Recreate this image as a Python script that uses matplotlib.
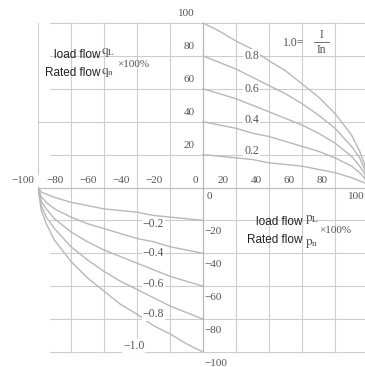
import matplotlib.pyplot as plt

plt.rcParams['mathtext.fontset'] = 'stix'

# load pressure (% of rated) and load flow (% of rated)
p_upper = [0, 10, 20, 30, 40, 50, 60, 70, 80, 90, 95, 98, 100]
q_upper = {
    '1.0': [100, 95, 89, 84, 77, 71, 63, 55, 45, 32, 22, 14, 0],
    '0.8': [80, 76, 72, 67, 62, 57, 51, 44, 36, 25, 18, 11, 0],
    '0.6': [60, 57, 54, 50, 46, 42, 38, 33, 27, 19, 13, 8.5, 0],
    '0.4': [40, 38, 36, 33, 31, 28, 25, 22, 18, 13, 9, 5.7, 0],
    '0.2': [20, 19, 18, 17, 15, 14, 13, 11, 9, 6, 4, 2.8, 0],
}
p_lower = [-100, -98, -95, -90, -80, -70, -60, -50, -40, -30, -20, -10, 0]
q_lower = {
    '-1.0': [0, -14, -22, -32, -45, -55, -63, -71, -77, -84, -89, -95, -100],
    '-0.8': [0, -11, -18, -25, -36, -44, -51, -57, -62, -67, -72, -76, -80],
    '-0.6': [0, -8.5, -13, -19, -27, -33, -38, -42, -46, -50, -54, -57, -60],
    '-0.4': [0, -5.7, -9, -13, -18, -22, -25, -28, -31, -33, -36, -38, -40],
    '-0.2': [0, -2.8, -4, -6, -9, -11, -13, -14, -15, -17, -18, -19, -20],
}
ticks_pos = [20, 40, 60, 80]
ticks_neg = [-100, -80, -60, -40, -20]
yticks_up = [100, 80, 60, 40, 20]
yticks_dn = [-20, -40, -60, -80, -100]

grid_c = '#cdcdcd'
curve_c = '#b8b8b8'
num_c = '#555555'


def lab(v):
    return str(v).replace('-', '\u2212')


fig = plt.figure(figsize=(3.65, 3.67), dpi=100)
ax = fig.add_axes([38 / 365, 15 / 367, 327 / 365, 329 / 367])
ax.set_xlim(-100, 98.2)
ax.set_ylim(-100, 100)
ax.axis('off')

# grid
for y in yticks_up + yticks_dn:
    x0 = -100 if y == 40 else -92.5
    ax.plot([x0, 100], [y, y], color=grid_c, lw=0.8, clip_on=False)
for x in ticks_neg[1:] + ticks_pos:
    ax.plot([x, x], [-100, 100], color=grid_c, lw=0.8, clip_on=False)
ax.plot([-100, -100], [8, 100], color=grid_c, lw=0.8)
ax.plot([-100, 100], [0, 0], color='#c0c0c0', lw=0.9, clip_on=False)
ax.plot([0, 0], [-100, 100], color='#b8b8b8', lw=0.9)

# curves
for k, q in q_upper.items():
    ax.plot(p_upper, q, color=curve_c, lw=1.0, clip_on=False)
for k, q in q_lower.items():
    ax.plot(p_lower, q, color=curve_c, lw=1.0)

serif = 'Liberation Serif'
box = dict(facecolor='white', edgecolor='none', pad=0.6)

# curve labels
for k, y in zip(['0.8', '0.6', '0.4', '0.2'], [80, 60, 41, 22]):
    ax.text(29.5, y, k, family=serif, fontsize=8.5, color=num_c,
            ha='center', va='center', bbox=box)
for k, y in zip(['-0.2', '-0.4', '-0.6', '-0.8'], [-22, -40, -58.5, -77]):
    ax.text(-30, y, lab(k), family=serif, fontsize=8.5, color=num_c,
            ha='center', va='center', bbox=box)
ax.text(-42, -96.5, lab('-1.0'), family=serif, fontsize=8.5, color=num_c,
        ha='center', va='center', bbox=box)

# 1.0 = I / In
ax.text(48.5, 87.8, '1.0=', family=serif, fontsize=8.5, color=num_c,
        ha='left', va='center')
ax.text(72, 92.5, 'I', family=serif, fontsize=8.5, color=num_c,
        ha='center', va='center')
ax.text(72, 83.3, 'In', family=serif, fontsize=8.5, color=num_c,
        ha='center', va='center')
ax.plot([67.5, 76.5], [88.2, 88.2], color=num_c, lw=0.6)

# tick labels
for x in ticks_neg:
    off = 2 if x == -100 else 4.5
    ax.text(x - off, 4.3, lab(x), family=serif, fontsize=8, color=num_c,
            ha='right', va='center', clip_on=False)
ax.text(-3, 4.3, '0', family=serif, fontsize=8, color=num_c,
        ha='right', va='center')
for x in ticks_pos:
    ax.text(x - 4.5, 4.3, str(x), family=serif, fontsize=8, color=num_c,
            ha='right', va='center')
ax.text(2, -5.5, '0', family=serif, fontsize=8, color=num_c,
        ha='left', va='center')
ax.text(92.7, -5.5, '100', family=serif, fontsize=8, color=num_c,
        ha='center', va='center')
for y in yticks_up:
    ax.text(-5, y + 5.5, str(y), family=serif, fontsize=8, color=num_c,
            ha='right', va='center', clip_on=False)
for y in yticks_dn:
    ax.text(1, y - 6.8, lab(y), family=serif, fontsize=8, color=num_c,
            ha='left', va='center', clip_on=False)

# axis titles
sans = 'Liberation Sans'
txt_c = '#222222'
ax.text(-62.4, 80.5, 'load flow', family=sans, fontsize=8.5, color=txt_c,
        ha='right', va='center')
ax.text(-62.4, 69.5, 'Rated flow', family=sans, fontsize=8.5, color=txt_c,
        ha='right', va='center')
ax.text(-61.8, 82, r'$\mathrm{q}_{\mathrm{L}}$', fontsize=9.5, color=num_c,
        ha='left', va='center')
ax.text(-61.8, 70, r'$\mathrm{q}_{\mathrm{n}}$', fontsize=9.5, color=num_c,
        ha='left', va='center')
ax.text(-52, 75, '×100%', family=serif, fontsize=8, color=num_c,
        ha='left', va='center')

ax.text(60.6, -20.7, 'load flow', family=sans, fontsize=8.5, color=txt_c,
        ha='right', va='center')
ax.text(60.6, -32, 'Rated flow', family=sans, fontsize=8.5, color=txt_c,
        ha='right', va='center')
ax.text(61.6, -19.5, r'$\mathrm{p}_{\mathrm{L}}$', fontsize=9.5, color=num_c,
        ha='left', va='center')
ax.text(61.6, -34, r'$\mathrm{p}_{\mathrm{n}}$', fontsize=9.5, color=num_c,
        ha='left', va='center')
ax.text(70.5, -26, '×100%', family=serif, fontsize=8, color=num_c,
        ha='left', va='center')

fig.savefig('out.png', dpi=100)
